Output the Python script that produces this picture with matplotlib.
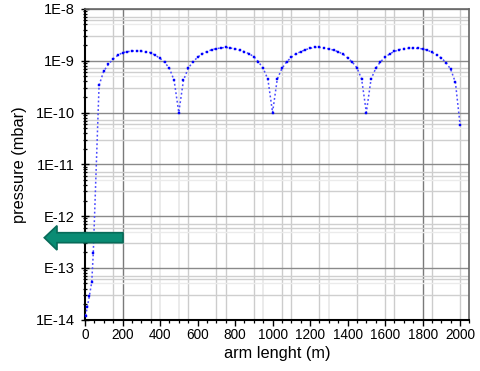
import matplotlib
matplotlib.use("Agg")
import matplotlib.pyplot as plt
import numpy as np
from matplotlib.patches import Polygon
from matplotlib.ticker import FixedLocator, MultipleLocator, LogLocator, NullFormatter

plt.rcParams['font.family'] = ['Liberation Sans', 'DejaVu Sans']

# ---- data ----
arm_length = [3, 12, 23, 36, 44,
              75, 100, 125, 150, 175, 200, 225, 250, 275, 300, 325, 350, 375, 400, 425, 450, 475, 500,
              525, 550, 575, 600, 625, 650, 675, 700, 725, 750, 775, 800, 825, 850, 875, 900, 925, 950, 975, 1000,
              1025, 1050, 1075, 1100, 1125, 1150, 1175, 1200, 1225, 1250, 1275, 1300, 1325, 1350, 1375, 1400, 1425, 1450, 1475, 1500,
              1525, 1550, 1575, 1600, 1625, 1650, 1675, 1700, 1725, 1750, 1775, 1800, 1825, 1850, 1875, 1900, 1925, 1950, 1975, 2000]
pressure = [1.2e-14, 1.74e-14, 2.83e-14, 5.3e-14, 1.9e-13,
            3.35e-10, 6.3e-10, 8.5e-10, 1.08e-9, 1.27e-9, 1.43e-9, 1.49e-9, 1.54e-9, 1.54e-9, 1.52e-9, 1.47e-9, 1.43e-9, 1.27e-9, 1.11e-9, 9.3e-10, 7.1e-10, 4.2e-10, 1.0e-10,
            4.2e-10, 7.1e-10, 9.5e-10, 1.16e-9, 1.36e-9, 1.49e-9, 1.63e-9, 1.71e-9, 1.76e-9, 1.81e-9, 1.76e-9, 1.69e-9, 1.58e-9, 1.49e-9, 1.36e-9, 1.2e-9, 9.5e-10, 7.1e-10, 4.4e-10, 1.0e-10,
            4.4e-10, 7.1e-10, 9.5e-10, 1.16e-9, 1.36e-9, 1.49e-9, 1.63e-9, 1.73e-9, 1.81e-9, 1.81e-9, 1.76e-9, 1.69e-9, 1.6e-9, 1.49e-9, 1.34e-9, 1.14e-9, 9.4e-10, 7.3e-10, 4.4e-10, 1.0e-10,
            4.4e-10, 7.1e-10, 9.5e-10, 1.16e-9, 1.36e-9, 1.51e-9, 1.63e-9, 1.71e-9, 1.73e-9, 1.73e-9, 1.73e-9, 1.69e-9, 1.6e-9, 1.45e-9, 1.3e-9, 1.12e-9, 9.2e-10, 6.8e-10, 3.8e-10, 5.7e-11]
x_ticks = [0, 200, 400, 600, 800, 1000, 1200, 1400, 1600, 1800, 2000]
y_ticks = [1e-14, 1e-13, 1e-12, 1e-11, 1e-10, 1e-9, 1e-8]
y_tick_labels = ['1E-14', 'E-13', 'E-12', '1E-11', '1E-10', '1E-9', '1E-8']
x_label = 'arm lenght (m)'
y_label = 'pressure (mbar)'

# ---- style constants (grid decoration) ----
grid_x_dark = [200, 1800]
grid_x_mid = [150, 350, 550, 700, 750, 900, 1050, 1100, 1250, 1450, 1600, 1650, 1850, 2000]
grid_x_light = [400, 500, 950, 1300]
grid_y_frac_mid = [0.71, 0.6, 0.3]
grid_y_frac_light = [0.5]

W, H = 481, 371
fig = plt.figure(figsize=(W / 100, H / 100), dpi=100)
ax = fig.add_axes([85 / W, 1 - 319.7 / H, (469.5 - 85) / W, (319.7 - 8.9) / H])
ax.set_yscale('log')
ax.set_xlim(0, 2050)
ax.set_ylim(1e-14, 1e-8)

# grid
for gx in grid_x_light:
    ax.axvline(gx, color='#e8e8e8', lw=1.2, zorder=0)
for gx in grid_x_mid:
    ax.axvline(gx, color='#cccccc', lw=1.0, zorder=0)
for gx in grid_x_dark:
    ax.axvline(gx, color='#7a7a7a', lw=1.0, zorder=0)
for d in y_ticks:
    for f in grid_y_frac_light:
        ax.axhline(d * f, color='#ebebeb', lw=1.0, zorder=0)
    for f in grid_y_frac_mid:
        ax.axhline(d * f, color='#cfcfcf', lw=1.0, zorder=0)
    ax.axhline(d, color='#8a8a8a', lw=1.0, zorder=0)

ax.plot(arm_length, pressure, color='#4a4aff', lw=1.1, linestyle=(0, (1.2, 1.6)),
        marker='s', markersize=2.1, markerfacecolor='#0000ff', markeredgecolor='#0000ff',
        markeredgewidth=0.3, zorder=3, clip_on=False)

ax.xaxis.set_major_locator(FixedLocator(x_ticks))
ax.xaxis.set_minor_locator(MultipleLocator(50))
ax.yaxis.set_major_locator(FixedLocator(y_ticks))
ax.yaxis.set_minor_locator(LogLocator(base=10, subs=np.arange(2, 10), numticks=20))
ax.yaxis.set_minor_formatter(NullFormatter())
ax.set_yticklabels(y_tick_labels)
ax.set_xticklabels([str(v) for v in x_ticks])

ax.tick_params(axis='x', which='major', labelsize=9.8, color='black', width=1.0)
ax.tick_params(axis='y', which='major', labelsize=10.5, color='black', width=1.0)
ax.tick_params(axis='x', which='major', direction='out', length=4.5, pad=1.5)
ax.tick_params(axis='x', which='minor', direction='out', length=2.5, width=0.9)
ax.tick_params(axis='y', which='major', direction='inout', length=6, pad=4.5)
ax.tick_params(axis='y', which='minor', direction='inout', length=3, width=0.9)

ax.set_xlabel(x_label, fontsize=11.8, labelpad=2.5)
ax.set_ylabel(y_label, fontsize=11.8, labelpad=6)

for s in ['left', 'bottom']:
    ax.spines[s].set_color('black')
    ax.spines[s].set_linewidth(1.5)
for s in ['top', 'right']:
    ax.spines[s].set_color('#666666')
    ax.spines[s].set_linewidth(1.2)

# teal arrow annotation (figure pixel coordinates)
arrow_px = [(44.3, 237.7), (57, 225.7), (57, 232.7), (123, 232.7), (123, 242.7), (57, 242.7), (57, 250)]
arrow = Polygon([(x / W, 1 - y / H) for x, y in arrow_px], closed=True,
                facecolor='#0a8c74', edgecolor='#086b59', lw=1.2, transform=fig.transFigure, zorder=10)
fig.patches.append(arrow)

fig.savefig('out.png', dpi=100)
